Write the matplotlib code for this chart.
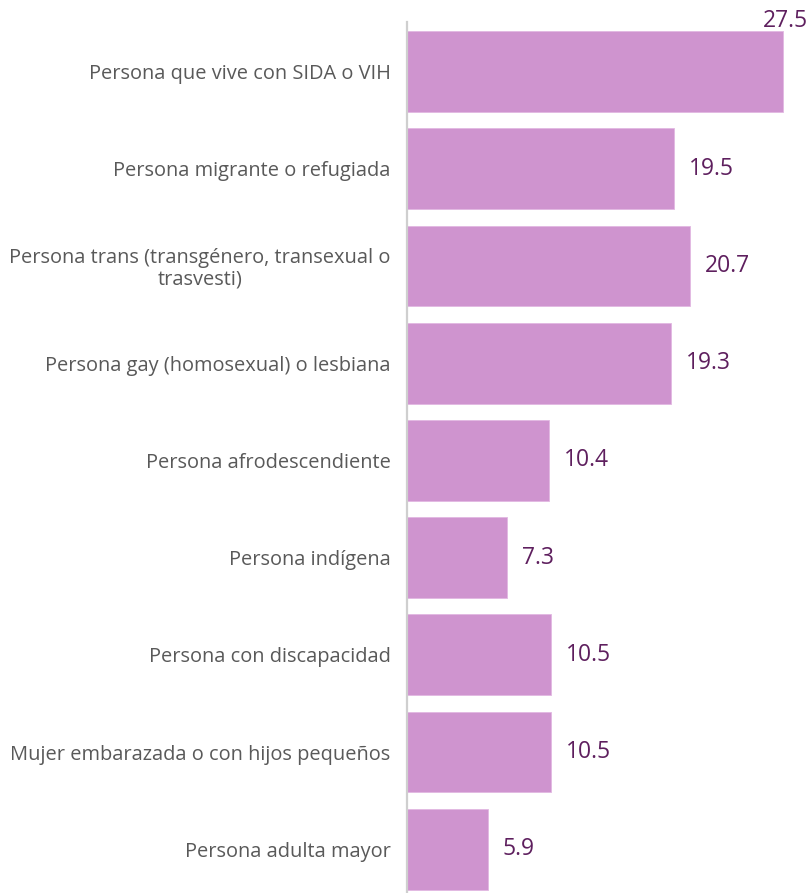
import matplotlib.pyplot as plt

# Datos
categorias = [
    'Persona que vive con SIDA o VIH',
    'Persona migrante o refugiada',
    'Persona trans (transgénero, transexual o\ntrasvesti)',
    'Persona gay (homosexual) o lesbiana',
    'Persona afrodescendiente',
    'Persona indígena',
    'Persona con discapacidad',
    'Mujer embarazada o con hijos pequeños',
    'Persona adulta mayor',
]
valores = [27.5, 19.5, 20.7, 19.3, 10.4, 7.3, 10.5, 10.5, 5.9]

plt.rcParams['font.family'] = ['Open Sans', 'DejaVu Sans']

fig = plt.figure(figsize=(8.11, 8.93), dpi=100)
ax = fig.add_axes([0.502, 0.0, 0.498, 0.9754])

pos = list(range(len(categorias)))
ax.barh(pos, valores, height=0.83, color='#CF94CF', edgecolor='#E2B8E2', linewidth=0.6)

ax.set_ylim(len(categorias) - 1 + 0.45, -0.51)
ax.set_xlim(0, 29.55)

ax.set_yticks(pos)
ax.set_yticklabels(categorias, fontsize=14.4, color='#595959', multialignment='center',
                   linespacing=1.05)
ax.tick_params(axis='y', length=0, pad=12)
ax.set_xticks([])

for s in ['top', 'right', 'bottom']:
    ax.spines[s].set_visible(False)
ax.spines['left'].set_color('#CFCFCF')
ax.spines['left'].set_linewidth(1.6)

# Etiquetas de valores
for i, v in enumerate(valores):
    if v == max(valores):
        ax.annotate(f'{v}', (v, i - 0.415), xytext=(25, 10), textcoords='offset pixels',
                    ha='right', va='center', fontsize=16.5, color='#5E1F5E', annotation_clip=False)
    else:
        ax.annotate(f'{v}', (v, i), xytext=(15, 0), textcoords='offset pixels',
                    ha='left', va='center', fontsize=16.5, color='#5E1F5E')

plt.savefig('out.png', dpi=100)
